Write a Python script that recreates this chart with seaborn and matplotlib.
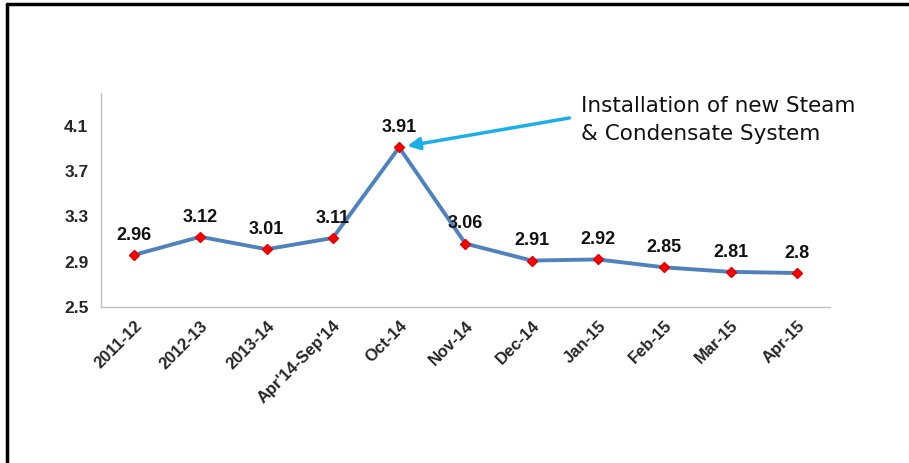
import matplotlib
matplotlib.use("Agg")
import matplotlib.pyplot as plt
from matplotlib.lines import Line2D
from matplotlib.ticker import FixedLocator
import seaborn as sns
import pandas as pd

# chart data
periods = ["2011-12", "2012-13", "2013-14", "Apr'14-Sep'14", "Oct-14", "Nov-14",
           "Dec-14", "Jan-15", "Feb-15", "Mar-15", "Apr-15"]
values = [2.96, 3.12, 3.01, 3.11, 3.91, 3.06, 2.91, 2.92, 2.85, 2.81, 2.8]
y_ticks = [2.5, 2.9, 3.3, 3.7, 4.1]

df = pd.DataFrame({"pos": range(len(periods)), "period": periods, "value": values})

sns.set_style("white")
plt.rcParams['font.family'] = ['Liberation Sans', 'DejaVu Sans']

fig = plt.figure(figsize=(9.09, 4.63), dpi=100)
ax = fig.add_axes([0.111, 0.337, 0.802, 0.462])

sns.lineplot(data=df, x="pos", y="value", color="#4F81BD", linewidth=2.8,
             sort=False, ax=ax)
ax.plot(df["pos"], df["value"], linestyle="none", marker="D", markersize=5.5,
        color="#FF0000", markeredgecolor="#E00000")

for x, v in zip(df["pos"], df["value"]):
    ax.annotate(f"{v:g}", (x, v), xytext=(0, 8), textcoords="offset points",
                ha="center", va="bottom", fontsize=13, fontweight="bold",
                color="#111111")

# note and arrow
ax.text(6.75, 4.15, "Installation of new Steam\n& Condensate System",
        fontsize=15.5, family="DejaVu Sans", color="#111111", ha="left",
        va="center", linespacing=1.5, clip_on=False)
ax.annotate("", xy=(4, 3.91), xytext=(6.57, 4.17),
            arrowprops=dict(arrowstyle="-|>", color="#1AAEEB", lw=2.5,
                            mutation_scale=18, shrinkA=0, shrinkB=6),
            annotation_clip=False)

ax.set_xlim(-0.5, len(periods) - 0.5)
ax.set_ylim(2.5, 4.39)
ax.set_yticks(y_ticks)
ax.set_yticklabels([f"{t:.1f}" for t in y_ticks], fontsize=12.5, fontweight="bold")
ax.tick_params(axis="y", length=0, pad=9)

ax.set_xticks(df["pos"])
ax.set_xticklabels(periods, rotation=45, ha="right", rotation_mode="anchor",
                   fontsize=12, fontweight="bold")
ax.xaxis.set_minor_locator(FixedLocator([i - 0.5 for i in range(len(periods) + 1)]))
ax.tick_params(axis="x", which="major", length=0, pad=8)
ax.tick_params(axis="x", which="minor", length=5, width=1, color="#BFBFBF", direction="out")
ax.set_xlabel("")
ax.set_ylabel("")

for side in ["top", "right"]:
    ax.spines[side].set_visible(False)
for side in ["left", "bottom"]:
    ax.spines[side].set_color("#BFBFBF")
    ax.spines[side].set_linewidth(1)

# frame lines on left and top of the picture
fig.add_artist(Line2D([7 / 909, 7 / 909], [0, 1 - 4 / 463], color="black", lw=2.5))
fig.add_artist(Line2D([7 / 909, 1], [1 - 4 / 463, 1 - 4 / 463], color="black", lw=2.5))

fig.savefig("out.png", dpi=100)
